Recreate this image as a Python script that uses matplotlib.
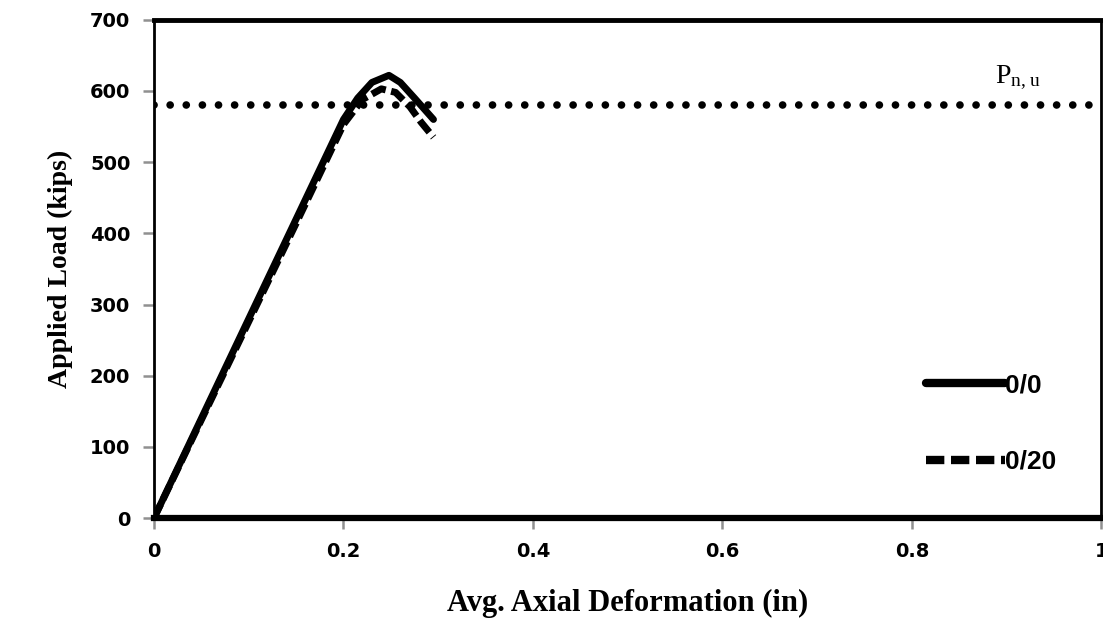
import matplotlib
matplotlib.use('Agg')
import matplotlib.pyplot as plt

# load-deformation curves
x_00 = [0.0, 0.05, 0.10, 0.15, 0.20, 0.215, 0.23, 0.248, 0.26, 0.275, 0.295]
y_00 = [0, 140, 280, 420, 560, 590, 612, 622, 612, 590, 560]
x_020 = [0.0, 0.05, 0.10, 0.15, 0.20, 0.22, 0.24, 0.255, 0.27, 0.282, 0.295]
y_020 = [0, 138, 276, 414, 553, 588, 603, 598, 578, 556, 535]
p_nu = 580
labels = ['0/0', '0/20']
xticks = [0, 0.2, 0.4, 0.6, 0.8, 1]
xticklabels = ['0', '0.2', '0.4', '0.6', '0.8', '1']
yticks = [0, 100, 200, 300, 400, 500, 600, 700]

fig = plt.figure(figsize=(11.03, 6.19), dpi=100)
ax = fig.add_axes([0.1396, 0.163, 0.859, 0.805])

ax.axhline(p_nu, color='black', lw=5.5, ls=(0, (0.01, 2.1)),
           dash_capstyle='round', zorder=2)
ax.plot(x_00, y_00, color='black', lw=5, solid_capstyle='round',
        label=labels[0], zorder=3)
ax.plot(x_020, y_020, color='black', lw=5, ls=(0, (2.2, 0.8)),
        label=labels[1], zorder=3)

ax.text(0.888, 618, r'$\mathregular{P_{n,u}}$', fontsize=20,
        family='Liberation Serif', ha='left', va='center')

ax.set_xlim(0, 1)
ax.set_ylim(0, 700)
ax.set_xticks(xticks)
ax.set_xticklabels(xticklabels)
ax.set_yticks(yticks)

for lab in ax.get_xticklabels() + ax.get_yticklabels():
    lab.set_fontweight('bold')
    lab.set_fontsize(14)
ax.tick_params(direction='out', length=8, width=1.8, color='#909090', pad=9)

ax.spines['top'].set_linewidth(3.5)
ax.spines['bottom'].set_linewidth(4.5)
ax.spines['left'].set_linewidth(2)
ax.spines['right'].set_linewidth(2)

ax.set_xlabel('Avg. Axial Deformation (in)', family='Liberation Serif',
              fontweight='bold', fontsize=22, labelpad=20)
ax.set_ylabel('Applied Load (kips)', family='Liberation Serif',
              fontweight='bold', fontsize=20, labelpad=12)

leg = ax.legend(loc='center left', bbox_to_anchor=(0.79, 0.19), frameon=False,
                handlelength=3.0, handletextpad=0.0, labelspacing=2.0,
                prop={'family': 'Liberation Sans', 'weight': 'bold', 'size': 19})
for h in leg.get_lines():
    h.set_linewidth(6)

fig.savefig('out.png', dpi=100)
